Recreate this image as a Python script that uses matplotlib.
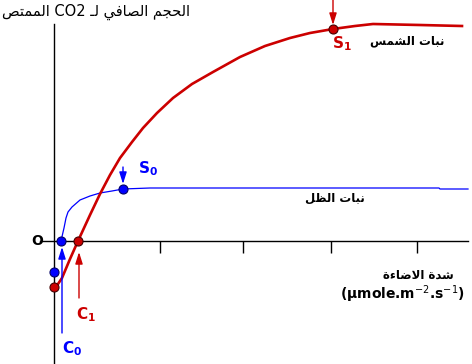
import matplotlib
matplotlib.use("Agg")
import matplotlib.pyplot as plt

# Courbes (unités arbitraires : intensité lumineuse / CO2 net absorbé)
sun_x = [0, 4, 8, 16, 24, 36, 46, 56, 66, 78, 89, 103, 119, 138, 159, 186, 211, 236, 256, 279, 301, 319, 366, 408]
sun_y = [-46, -43, -37, -18, 0, 26, 47, 66, 83, 99, 113, 128, 143, 157, 169, 184, 195, 203, 208, 212, 215, 217, 216, 215]
shade_x = [7, 10, 12, 14, 18, 26, 36, 46, 58, 69, 96, 246, 385, 386, 414]
shade_y = [0, 13, 23, 29, 34, 41, 45, 48, 50, 52, 53, 53, 53, 52, 52]

# Points remarquables
sun_dots_x = [0, 24, 279]
sun_dots_y = [-46, 0, 212]
shade_dots_x = [0, 7, 69]
shade_dots_y = [-31, 0, 52]
x_ticks = [106, 189, 277, 363]

RED = "#cc0000"
BLUE = "#0000ff"

# Formes de présentation arabes : isolée, finale, initiale, médiane
ARABIC_FORMS = {
    'ء': ('\uFE80', None, None, None),
    'ا': ('\uFE8D', '\uFE8E', None, None),
    'ب': ('\uFE8F', '\uFE90', '\uFE91', '\uFE92'),
    'ة': ('\uFE93', '\uFE94', None, None),
    'ت': ('\uFE95', '\uFE96', '\uFE97', '\uFE98'),
    'ج': ('\uFE9D', '\uFE9E', '\uFE9F', '\uFEA0'),
    'ح': ('\uFEA1', '\uFEA2', '\uFEA3', '\uFEA4'),
    'د': ('\uFEA9', '\uFEAA', None, None),
    'س': ('\uFEB1', '\uFEB2', '\uFEB3', '\uFEB4'),
    'ش': ('\uFEB5', '\uFEB6', '\uFEB7', '\uFEB8'),
    'ص': ('\uFEB9', '\uFEBA', '\uFEBB', '\uFEBC'),
    'ض': ('\uFEBD', '\uFEBE', '\uFEBF', '\uFEC0'),
    'ظ': ('\uFEC5', '\uFEC6', '\uFEC7', '\uFEC8'),
    'ف': ('\uFED1', '\uFED2', '\uFED3', '\uFED4'),
    'ل': ('\uFEDD', '\uFEDE', '\uFEDF', '\uFEE0'),
    'م': ('\uFEE1', '\uFEE2', '\uFEE3', '\uFEE4'),
    'ن': ('\uFEE5', '\uFEE6', '\uFEE7', '\uFEE8'),
    'ي': ('\uFEF1', '\uFEF2', '\uFEF3', '\uFEF4'),
    'لا': ('\uFEFB', '\uFEFC', None, None),
    'ـ': ('ـ', 'ـ', 'ـ', 'ـ'),
}


def shape_word(word):
    letters = []
    i = 0
    while i < len(word):
        if word[i:i + 2] == 'لا':
            letters.append('لا')
            i += 2
        else:
            letters.append(word[i])
            i += 1
    out = []
    for k, ch in enumerate(letters):
        forms = ARABIC_FORMS.get(ch)
        if forms is None:
            out.append(ch)
            continue
        prev = ARABIC_FORMS.get(letters[k - 1]) if k > 0 else None
        nxt = ARABIC_FORMS.get(letters[k + 1]) if k + 1 < len(letters) else None
        join_prev = prev is not None and prev[2] is not None and forms[1] is not None
        join_next = nxt is not None and nxt[1] is not None and forms[2] is not None
        if join_prev and join_next:
            out.append(forms[3])
        elif join_prev:
            out.append(forms[1])
        elif join_next:
            out.append(forms[2])
        else:
            out.append(forms[0])
    return ''.join(reversed(out))


def rtl(text):
    words = text.split(' ')
    res = []
    for w in reversed(words):
        if any('\u0600' <= c <= '\u06FF' for c in w):
            res.append(shape_word(w))
        else:
            res.append(w)
    return ' '.join(res)


fig = plt.figure(figsize=(4.72, 3.64), dpi=100)
ax = fig.add_axes([0, 0, 1, 1])
ax.set_xlim(-54, 418)
ax.set_ylim(-123, 241)

# Axes
for s in ["top", "right"]:
    ax.spines[s].set_visible(False)
ax.spines["left"].set_position(("data", 0))
ax.spines["bottom"].set_position(("data", 0))
ax.spines["left"].set_bounds(-123, 217)
ax.spines["bottom"].set_bounds(-14, 414)
ax.spines["left"].set_linewidth(1.0)
ax.spines["bottom"].set_linewidth(1.0)
ax.set_xticks(x_ticks)
ax.set_yticks([])
ax.tick_params(axis="x", direction="out", length=8.5, width=1.0, labelbottom=False)

# Courbes
ax.plot(shade_x, shade_y, color=BLUE, lw=0.9, zorder=3)
ax.plot(sun_x, sun_y, color=RED, lw=1.9, zorder=4)
ax.plot(shade_dots_x, shade_dots_y, "o", ms=6.5, mfc=BLUE, mec="#000066", mew=0.8, zorder=5)
ax.plot(sun_dots_x, sun_dots_y, "o", ms=6.5, mfc=RED, mec="#440000", mew=0.8, zorder=5)

# Flèches
def arrow(x, y0, y1, color):
    ax.annotate("", xy=(x, y1), xytext=(x, y0),
                arrowprops=dict(arrowstyle="-|>,head_length=0.7,head_width=0.22",
                                color=color, lw=1.0, shrinkA=0, shrinkB=0), zorder=6)

arrow(8, -92, -6, BLUE)
arrow(25, -57, -11, RED)
arrow(69, 74, 57, BLUE)
arrow(279, 241, 216, RED)

# Étiquettes
ax.text(-17, 0, "O", fontsize=10, fontweight="bold", ha="center", va="center")
ax.text(84, 72, r"$\mathbf{S_0}$", color=BLUE, fontsize=11, ha="left", va="center")
ax.text(278, 197, r"$\mathbf{S_1}$", color=RED, fontsize=11, ha="left", va="center")
ax.text(22, -74, r"$\mathbf{C_1}$", color=RED, fontsize=11, ha="left", va="center")
ax.text(8, -108, r"$\mathbf{C_0}$", color=BLUE, fontsize=11, ha="left", va="center")

ax.text(-52, 229, rtl("الحجم الصافي لـ CO2 الممتص"), fontsize=10.5, ha="left", va="center",
        family="DejaVu Sans")
ax.text(353, 200, rtl("نبات الشمس"), fontsize=8.5, fontweight="bold", ha="center", va="center",
        family="DejaVu Sans")
ax.text(281, 43, rtl("نبات الظل"), fontsize=8.5, fontweight="bold", ha="center", va="center",
        family="DejaVu Sans")
ax.text(364, -34, rtl("شدة الاضاءة"), fontsize=8.5, fontweight="bold", ha="center", va="center",
        family="DejaVu Sans")
ax.text(348, -53, r"($\mathbf{\mu}$mole.m$^{-2}$.s$^{-1}$)", fontsize=10, fontweight="bold",
        ha="center", va="center")

fig.savefig("out.png", dpi=100)
